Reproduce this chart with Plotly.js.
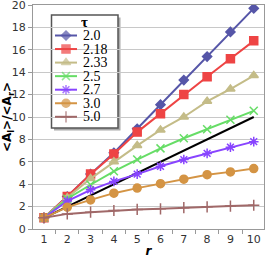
<!DOCTYPE html>
<html><head><meta charset="utf-8">
<script src="https://cdn.plot.ly/plotly-3.0.1.min.js"></script>
<style>html,body{margin:0;padding:0;background:#fff}#c{width:266px;height:262px}</style>
</head><body><div id="c"></div>
<script>
var r = [1,2,3,4,5,6,7,8,9,10];
var tauNames = ["2.0","2.18","2.33","2.5","2.7","3.0","5.0"];
var t20  = [1, 2.9, 4.9, 6.8, 8.95, 11.1, 13.3, 15.4, 17.6, 19.7];
var t218 = [1, 2.9, 4.9, 6.7, 8.65, 10.3, 12.0, 13.6, 15.2, 16.8];
var t233 = [1, 2.8, 4.5, 6.0, 7.45, 8.85, 10.0, 11.4, 12.5, 13.7];
var t25  = [1, 2.7, 3.95, 5.15, 6.2, 7.2, 8.1, 8.9, 9.75, 10.55];
var t27  = [1, 2.5, 3.5, 4.25, 4.9, 5.6, 6.2, 6.75, 7.3, 7.8];
var t30  = [1, 1.95, 2.6, 3.2, 3.65, 4.05, 4.45, 4.85, 5.1, 5.4];
var t50  = [1, 1.35, 1.5, 1.65, 1.75, 1.8, 1.9, 1.98, 2.05, 2.12];
var refX = [1, 10];
var refY = [1, 10];
var yTicks = [0,2,4,6,8,10,12,14,16,18,20];

var series = [t20,t218,t233,t25,t27,t30,t50];
var colors = ["#5656a8","#ee4444","#c4bc88","#66dd66","#8844ff","#d49444","#a06868"];
var symbols = ["diamond","square","triangle-up","x-thin-open","asterisk-open","circle","cross-thin-open"];
var sizes = [7,8,8,8,8,8,8];

var traces = [{
  x: refX, y: refY, mode: "lines", line: {color: "#000", width: 2}, showlegend: false, hoverinfo: "skip"
}];
series.forEach(function(s, i){
  traces.push({
    x: r, y: s, name: tauNames[i], mode: "lines+markers", showlegend: false,
    line: {color: colors[i], width: 2},
    marker: {color: colors[i], symbol: symbols[i], size: sizes[i], line: {color: colors[i], width: 1.5}}
  });
});

// custom legend (plot-area fraction coordinates)
var W = 231, H = 224, L = 33, B = 229;
function fx(px){ return (px - L) / W; }
function fy(py){ return (B - py) / H; }
var annotations = [{
  xref: "paper", yref: "paper", x: fx(84.5), y: fy(21.5), text: "<b>τ</b>", showarrow: false,
  xanchor: "center", yanchor: "middle", height: 13, font: {family: "Liberation Serif", size: 15, color: "#000"}
}];
tauNames.forEach(function(nm, i){
  var yc = fy(35.5 + i * 13.55);
  traces.push({
    x: [fx(55), fx(66), fx(77)], y: [yc, yc, yc], xaxis: "x2", yaxis: "y2",
    mode: "lines+markers", showlegend: false, hoverinfo: "skip",
    line: {color: colors[i], width: 2},
    marker: {color: colors[i], symbol: symbols[i], size: [0, sizes[i], 0], line: {color: colors[i], width: 1.5}}
  });
  annotations.push({
    xref: "paper", yref: "paper", x: fx(81), y: yc, text: nm, showarrow: false,
    xanchor: "left", yanchor: "middle", height: 13, font: {family: "Liberation Serif", size: 14, color: "#000"}
  });
});

var layout = {
  width: 266, height: 262,
  margin: {l: 33, r: 2, t: 5, b: 33},
  paper_bgcolor: "#fff", plot_bgcolor: "#fff",
  showlegend: false,
  font: {family: "DejaVu Sans", size: 10, color: "#333"},
  xaxis: {
    range: [0.53, 10.44], tickvals: r, ticktext: r.map(String),
    showgrid: false, zeroline: false, ticks: "", showline: true, linecolor: "#999", mirror: true,
    tickfont: {size: 11, color: "#333"}, ticklabeloverflow: "allow",
    minor: {tick0: 0.5, dtick: 1, ticks: "outside", ticklen: 4, tickcolor: "#999", showgrid: false},
    title: {text: "<b><i>r</i></b>", font: {family: "DejaVu Sans", size: 12, color: "#000"}, standoff: 1}
  },
  yaxis: {
    range: [0, 20], tickvals: yTicks, ticktext: yTicks.map(String), showgrid: true, gridcolor: "#c8c8c8", zeroline: false,
    ticks: "outside", ticklen: 4, tickcolor: "#999", showline: true, linecolor: "#999", mirror: true,
    tickfont: {size: 11, color: "#333"}, ticklabeloverflow: "allow",
    title: {text: "<b>&lt;A<sub>l</sub>&gt;/&lt;A<sub>r</sub>&gt;</b>", font: {family: "DejaVu Sans", size: 12, color: "#000"}, standoff: 0}
  },
  xaxis2: {overlaying: "x", range: [0, 1], visible: false, fixedrange: true},
  yaxis2: {overlaying: "y", range: [0, 1], visible: false, fixedrange: true},
  shapes: [
    {type: "rect", xref: "paper", yref: "paper", layer: "between",
     x0: fx(54), x1: fx(120.5), y0: fy(130.5), y1: fy(17.5), fillcolor: "#aaaaaa", line: {width: 0}},
    {type: "rect", xref: "paper", yref: "paper", layer: "between",
     x0: fx(51.5), x1: fx(118), y0: fy(128), y1: fy(15), fillcolor: "#ffffff", line: {color: "#555", width: 1.5}}
  ],
  annotations: annotations
};
Plotly.newPlot("c", traces, layout, {displayModeBar: false, staticPlot: true});
</script>
</body></html>
